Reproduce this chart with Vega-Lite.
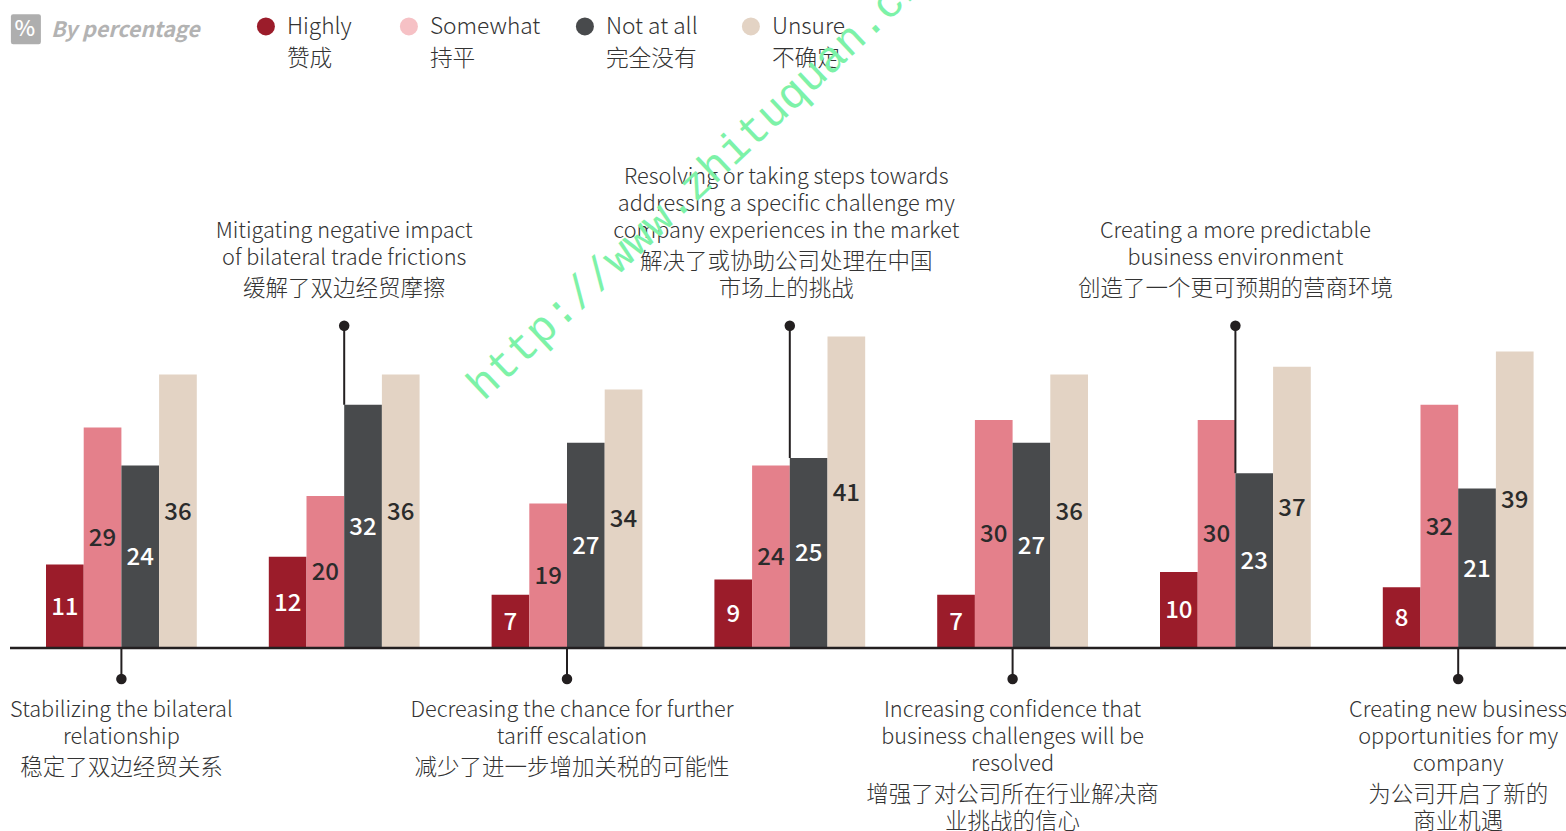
{"$schema":"https://vega.github.io/schema/vega-lite/v6.json","width":1556,"height":831,"autosize":"none","padding":{"left":10,"top":0,"right":0,"bottom":0},"background":"white","view":{"stroke":null},"config":{"font":"Noto Sans CJK SC"},
"datasets":{
"scores":[
{"g":"1","s":"Highly","v":11},{"g":"1","s":"Somewhat","v":29},{"g":"1","s":"Not at all","v":24},{"g":"1","s":"Unsure","v":36},
{"g":"2","s":"Highly","v":12},{"g":"2","s":"Somewhat","v":20},{"g":"2","s":"Not at all","v":32},{"g":"2","s":"Unsure","v":36},
{"g":"3","s":"Highly","v":7},{"g":"3","s":"Somewhat","v":19},{"g":"3","s":"Not at all","v":27},{"g":"3","s":"Unsure","v":34},
{"g":"4","s":"Highly","v":9},{"g":"4","s":"Somewhat","v":24},{"g":"4","s":"Not at all","v":25},{"g":"4","s":"Unsure","v":41},
{"g":"5","s":"Highly","v":7},{"g":"5","s":"Somewhat","v":30},{"g":"5","s":"Not at all","v":27},{"g":"5","s":"Unsure","v":36},
{"g":"6","s":"Highly","v":10},{"g":"6","s":"Somewhat","v":30},{"g":"6","s":"Not at all","v":23},{"g":"6","s":"Unsure","v":37},
{"g":"7","s":"Highly","v":8},{"g":"7","s":"Somewhat","v":32},{"g":"7","s":"Not at all","v":21},{"g":"7","s":"Unsure","v":39}],
"notes":[
{"g":"1","side":"low","reach":-4.08,"base":0,"en":"Stabilizing the bilateral\nrelationship","zh":"稳定了双边经贸关系","n":"a"},
{"g":"2","side":"up","reach":42.4,"base":32,"en":"Mitigating negative impact\nof bilateral trade frictions","zh":"缓解了双边经贸摩擦","n":"a"},
{"g":"3","side":"low","reach":-4.08,"base":0,"en":"Decreasing the chance for further\ntariff escalation","zh":"减少了进一步增加关税的可能性","n":"s"},
{"g":"4","side":"up","reach":42.4,"base":25,"en":"Resolving or taking steps towards\naddressing a specific challenge my\ncompany experiences in the market","zh":"解决了或协助公司处理在中国\n市场上的挑战","n":"s"},
{"g":"5","side":"low","reach":-4.08,"base":0,"en":"Increasing confidence that\nbusiness challenges will be\nresolved","zh":"增强了对公司所在行业解决商\n业挑战的信心","n":"b"},
{"g":"6","side":"up","reach":42.4,"base":23,"en":"Creating a more predictable\nbusiness environment","zh":"创造了一个更可预期的营商环境","n":"a"},
{"g":"7","side":"low","reach":-4.08,"base":0,"en":"Creating new business\nopportunities for my\ncompany","zh":"为公司开启了新的\n商业机遇","n":"b"}],
"key":[{"g":"1","lvl":81.78,"s":"Highly","t":"Highly\n赞成"},{"g":"1","lvl":81.78,"s":"Somewhat","t":"Somewhat\n持平"},{"g":"1","lvl":81.78,"s":"Not at all","t":"Not at all\n完全没有"},{"g":"1","lvl":81.78,"s":"Unsure","t":"Unsure\n不确定"}]},
"encoding":{
"x":{"field":"g","type":"nominal","axis":null,"scale":{"domain":["1","2","3","4","5","6","7"],"range":[0,1559.6],"paddingInner":0,"paddingOuter":0}},
"y":{"type":"quantitative","axis":null,"scale":{"domain":[-24.08,85.26],"range":[831,0],"nice":false,"zero":false}}},
"layer":[
{"data":{"name":"scores"},"mark":{"type":"bar"},"encoding":{"xOffset":{"field":"s","scale":{"domain":["Highly","Somewhat","Not at all","Unsure"],"paddingInner":0,"paddingOuter":0.955}},"y":{"field":"v","type":"quantitative"},"y2":{"datum":0},"color":{"field":"s","legend":null,"scale":{"domain":["Highly","Somewhat","Not at all","Unsure"],"range":["#9b1c2a","#e4808b","#484a4c","#e3d3c4"]}}}},
{"data":{"values":[{"zero":0}]},"mark":{"type":"rule","color":"#231f20","strokeWidth":2.5},"encoding":{"x":null,"y":{"field":"zero","type":"quantitative"}}},
{"data":{"name":"notes"},"mark":{"type":"rule","color":"#231f20","strokeWidth":2},"encoding":{"y":{"field":"reach","type":"quantitative"},"y2":{"field":"base"}}},
{"data":{"name":"notes"},"mark":{"type":"point","filled":true,"opacity":1,"color":"#231f20","size":110},"encoding":{"y":{"field":"reach","type":"quantitative"}}},
{"data":{"name":"scores"},"mark":{"type":"text","fontSize":24,"fontWeight":500,"align":"center","baseline":"middle","dy":1.5},"encoding":{"xOffset":{"field":"s","scale":{"domain":["Highly","Somewhat","Not at all","Unsure"],"paddingInner":0,"paddingOuter":0.955}},"y":{"field":"v","type":"quantitative","scale":{"domain":[-48.16,170.52],"range":[831,0],"nice":false,"zero":false}},"text":{"field":"v"},"color":{"condition":{"test":"datum.s=='Highly'||datum.s=='Not at all'","value":"#ffffff"},"value":"#2b2b2b"}}},
{"data":{"name":"notes"},"transform":[{"filter":"datum.side=='low'&&datum.n!='s'"}],"mark":{"type":"text","fontSize":21.7,"fontWeight":300,"color":"#333333","lineBreak":"\n","lineHeight":27,"baseline":"top","dy":21},"encoding":{"y":{"field":"reach","type":"quantitative"},"text":{"field":"en"}}},
{"data":{"name":"notes"},"transform":[{"filter":"datum.side=='low'&&datum.n=='s'"}],"mark":{"type":"text","fontSize":21.7,"fontWeight":300,"color":"#333333","lineBreak":"\n","lineHeight":27,"baseline":"top","dy":21,"dx":5},"encoding":{"y":{"field":"reach","type":"quantitative"},"text":{"field":"en"}}},
{"data":{"name":"notes"},"transform":[{"filter":"datum.g=='1'"}],"mark":{"type":"text","fontSize":22.5,"fontWeight":300,"color":"#333333","lineBreak":"\n","lineHeight":27,"baseline":"top","dy":78},"encoding":{"y":{"field":"reach","type":"quantitative"},"text":{"field":"zh"}}},
{"data":{"name":"notes"},"transform":[{"filter":"datum.g=='3'"}],"mark":{"type":"text","fontSize":22.5,"fontWeight":300,"color":"#333333","lineBreak":"\n","lineHeight":27,"baseline":"top","dy":78,"dx":5},"encoding":{"y":{"field":"reach","type":"quantitative"},"text":{"field":"zh"}}},
{"data":{"name":"notes"},"transform":[{"filter":"datum.side=='low'&&datum.n=='b'"}],"mark":{"type":"text","fontSize":22.5,"fontWeight":300,"color":"#333333","lineBreak":"\n","lineHeight":27,"baseline":"top","dy":105},"encoding":{"y":{"field":"reach","type":"quantitative"},"text":{"field":"zh"}}},
{"data":{"name":"notes"},"transform":[{"filter":"datum.side=='up'&&datum.n=='a'"}],"mark":{"type":"text","fontSize":21.7,"fontWeight":300,"color":"#333333","lineBreak":"\n","lineHeight":27,"baseline":"bottom","dy":-83},"encoding":{"y":{"field":"reach","type":"quantitative"},"text":{"field":"en"}}},
{"data":{"name":"notes"},"transform":[{"filter":"datum.side=='up'&&datum.n=='a'"}],"mark":{"type":"text","fontSize":22.5,"fontWeight":300,"color":"#333333","lineBreak":"\n","lineHeight":27,"baseline":"bottom","dy":-25},"encoding":{"y":{"field":"reach","type":"quantitative"},"text":{"field":"zh"}}},
{"data":{"name":"notes"},"transform":[{"filter":"datum.g=='4'"}],"mark":{"type":"text","fontSize":21.7,"fontWeight":300,"color":"#333333","lineBreak":"\n","lineHeight":27,"baseline":"bottom","dy":-137,"dx":-3.5},"encoding":{"y":{"field":"reach","type":"quantitative"},"text":{"field":"en"}}},
{"data":{"name":"notes"},"transform":[{"filter":"datum.g=='4'"}],"mark":{"type":"text","fontSize":22.5,"fontWeight":300,"color":"#333333","lineBreak":"\n","lineHeight":27,"baseline":"bottom","dy":-52,"dx":-3.5},"encoding":{"y":{"field":"reach","type":"quantitative"},"text":{"field":"zh"}}},
{"data":{"values":[{"g":"1","lvl":81.4,"t":"%"}]},"mark":{"type":"point","filled":true,"opacity":1,"color":"#aeaeae","xOffset":-95.5,"size":900,"shape":"M-1,-0.85 Q-1,-1 -0.85,-1 L0.85,-1 Q1,-1 1,-0.85 L1,0.85 Q1,1 0.85,1 L-0.85,1 Q-1,1 -1,0.85 Z"},"encoding":{"y":{"field":"lvl","type":"quantitative"}}},
{"data":{"values":[{"g":"1","lvl":81.4,"t":"%"}]},"mark":{"type":"text","fontSize":22,"fontWeight":500,"color":"#ffffff","dx":-96.5,"baseline":"middle"},"encoding":{"y":{"field":"lvl","type":"quantitative"},"text":{"field":"t"}}},
{"data":{"values":[{"g":"1","lvl":81.4,"t":"By percentage"}]},"mark":{"type":"text","fontSize":21.3,"fontWeight":700,"fontStyle":"italic","color":"#b3b3b3","align":"left","dx":-70.5,"dy":2,"baseline":"middle"},"encoding":{"y":{"field":"lvl","type":"quantitative"},"text":{"field":"t"}}},
{"data":{"name":"key"},"transform":[{"filter":"datum.s=='Highly'"}],"mark":{"type":"point","filled":true,"opacity":1,"size":324,"color":"#9b1c2a","xOffset":144.5},"encoding":{"y":{"field":"lvl","type":"quantitative"}}},
{"data":{"name":"key"},"transform":[{"filter":"datum.s=='Somewhat'"}],"mark":{"type":"point","filled":true,"opacity":1,"size":324,"color":"#f6c1c5","xOffset":287.5},"encoding":{"y":{"field":"lvl","type":"quantitative"}}},
{"data":{"name":"key"},"transform":[{"filter":"datum.s=='Not at all'"}],"mark":{"type":"point","filled":true,"opacity":1,"size":324,"color":"#484a4c","xOffset":463.5},"encoding":{"y":{"field":"lvl","type":"quantitative"}}},
{"data":{"name":"key"},"transform":[{"filter":"datum.s=='Unsure'"}],"mark":{"type":"point","filled":true,"opacity":1,"size":324,"color":"#e3d3c4","xOffset":629.5},"encoding":{"y":{"field":"lvl","type":"quantitative"}}},
{"data":{"name":"key"},"transform":[{"filter":"datum.s=='Highly'"}],"mark":{"type":"text","fontSize":22.7,"fontWeight":300,"color":"#333333","align":"left","baseline":"top","lineBreak":"\n","lineHeight":32,"dx":165.5,"dy":-10},"encoding":{"y":{"field":"lvl","type":"quantitative"},"text":{"field":"t"}}},
{"data":{"name":"key"},"transform":[{"filter":"datum.s=='Somewhat'"}],"mark":{"type":"text","fontSize":22.7,"fontWeight":300,"color":"#333333","align":"left","baseline":"top","lineBreak":"\n","lineHeight":32,"dx":308.5,"dy":-10},"encoding":{"y":{"field":"lvl","type":"quantitative"},"text":{"field":"t"}}},
{"data":{"name":"key"},"transform":[{"filter":"datum.s=='Not at all'"}],"mark":{"type":"text","fontSize":22.7,"fontWeight":300,"color":"#333333","align":"left","baseline":"top","lineBreak":"\n","lineHeight":32,"dx":484.5,"dy":-10},"encoding":{"y":{"field":"lvl","type":"quantitative"},"text":{"field":"t"}}},
{"data":{"name":"key"},"transform":[{"filter":"datum.s=='Unsure'"}],"mark":{"type":"text","fontSize":22.7,"fontWeight":300,"color":"#333333","align":"left","baseline":"top","lineBreak":"\n","lineHeight":32,"dx":650.5,"dy":-10},"encoding":{"y":{"field":"lvl","type":"quantitative"},"text":{"field":"t"}}},
{"data":{"values":[{"g":"3","lvl":32.6,"t":"http://www.zhituquan.cn"}]},"mark":{"type":"text","font":"Liberation Mono","fontSize":44,"fontWeight":400,"color":"#7df2a8","align":"left","baseline":"alphabetic","angle":-43.2,"dx":-62,"dy":-56},"encoding":{"y":{"field":"lvl","type":"quantitative"},"text":{"field":"t"}}}
],
"resolve":{"scale":{"y":"independent"}}}
